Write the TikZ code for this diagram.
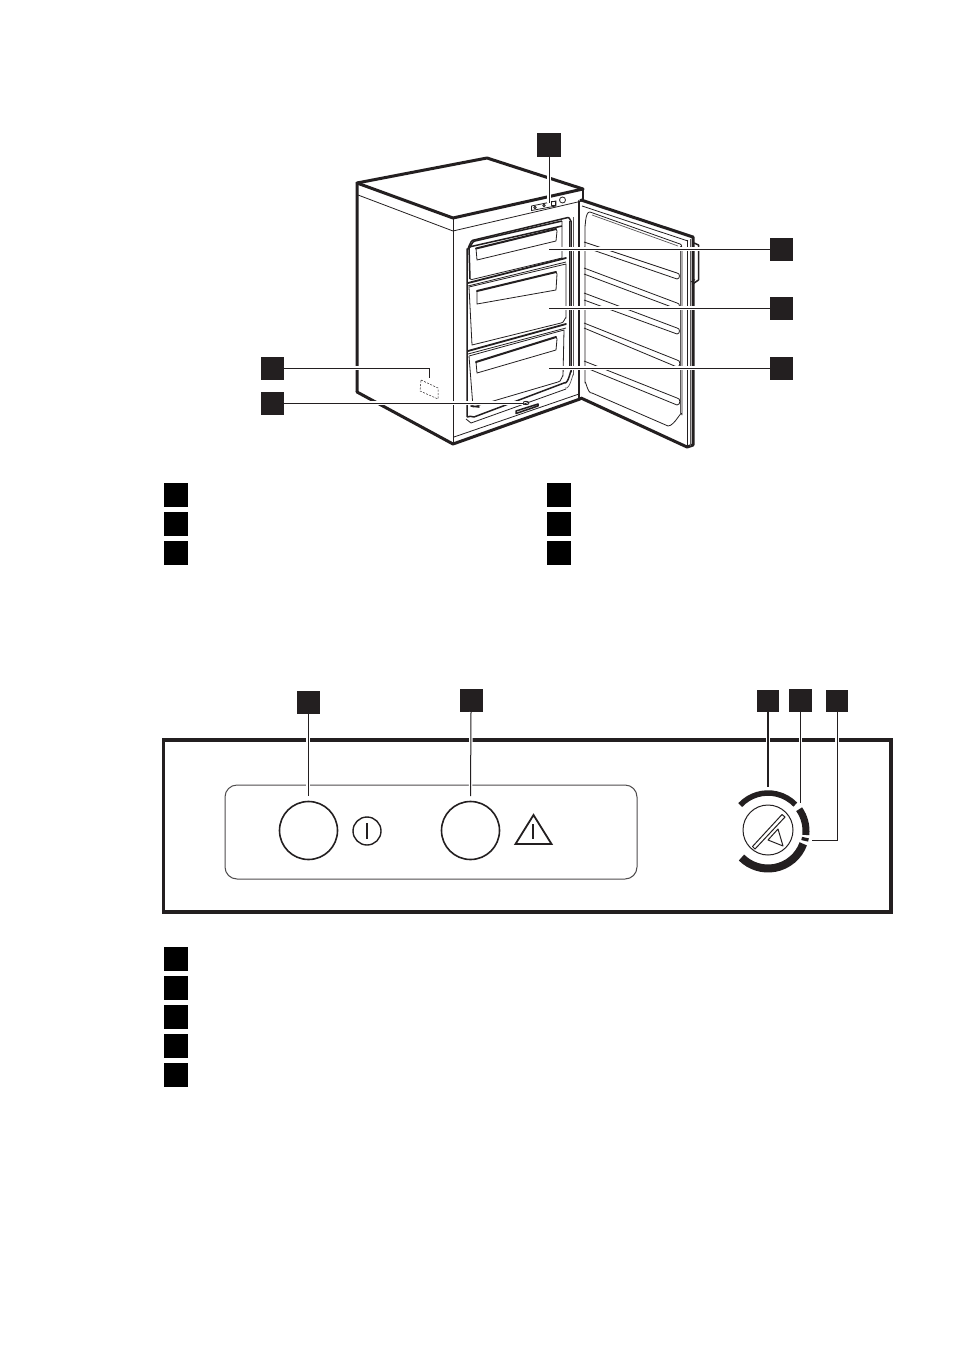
\documentclass[tikz,border=0pt]{standalone}
\definecolor{ink}{HTML}{231F20}
\tikzset{
  tagbox/.style={fill=ink,draw=none,minimum size=#1,inner sep=0pt,outer sep=0pt},
  tagbox/.default=23pt,
  legbox/.style={fill=black,draw=none,minimum size=24pt,inner sep=0pt,outer sep=0pt},
  heavy/.style={draw=ink,line width=3pt,line join=round,line cap=round},
  mid/.style={draw=ink,line width=1.5pt,line join=round},
  fine/.style={draw=ink,line width=0.8pt,line join=round},
  pale/.style={draw=ink!75,line width=0.7pt,line join=round},
  lead/.style={draw=ink,line width=1pt,preaction={draw=white,line width=3.6pt}},
  leadb/.style={draw=ink,line width=1.8pt,preaction={draw=white,line width=4.4pt}}
}
\begin{document}
\begin{tikzpicture}[x=1pt,y=-1pt]
\useasboundingbox (0,0) rectangle (954,1351);
\fill[white] (0,0) rectangle (954,1351);
% ---- cabinet
\draw[heavy] (357,392) -- (357,183) -- (487,158) -- (583,189);
\draw[heavy] (357,183) -- (453,218) -- (583,189);
\draw[heavy] (357,392) -- (453,444) -- (580,399);
\draw[mid] (583,189) -- (583,201);
\draw[fine] (358,195) -- (453,231) -- (582,201);
\draw[fine] (453,218) -- (453,444);
\draw[fine] (454,437) -- (579,394);
\draw[heavy,line width=2pt] (579,201) -- (579,399);
% control strip
\draw[fine] (531.5,206) -- (556,201) -- (556,206) -- (531.5,210.5) -- cycle;
\draw[fine] (535,207.5) circle[radius=1.3pt] (544,205.5) circle[radius=1.3pt];
\draw[fine] (551,201.8) rectangle (555,205.5);
\draw[fine] (562.5,200) circle[radius=3pt];
% opening
\draw[mid] (467,417) -- (467,249) to[out=-80,in=170] (474,240) -- (568,217.5) to[out=10,in=-90] (571,221) -- (571,372) to[out=90,in=-20] (564,383) -- (474,417) to[out=170,in=30] (467,417);
\draw[fine] (569,221) -- (569,370);
\draw[pale] (573.5,217) -- (573.5,375) to[out=90,in=-25] (565,388);
\draw[fine] (466,419) -- (471,423) -- (566,389);
% drawer 1
\draw[mid] (470,279) -- (469,247) -- (562,226);
\draw[mid] (469,247) to[out=-70,in=170] (475,241) -- (562,221);
\draw[fine] (562,221) -- (562,258) -- (472,279.5);
\draw[fine] (472,279.5) -- (470,279);
\draw[heavy,line width=2pt] (476,248.5) -- (556,229);
\draw[fine] (476,248.5) -- (477,260) -- (556,241) -- (557,231) -- (556,229);
% divider 1
\draw[heavy,line width=1.8pt] (468,283) -- (566,258);
\draw[fine] (468,286) -- (566,262);
% drawer 2
\draw[fine] (469,287) -- (566,264) -- (566,318) to[out=90,in=-20] (561,323) -- (472,345) -- (469,287);
\draw[heavy,line width=2pt] (477,291) -- (556,272);
\draw[fine] (477,291) -- (477,304) -- (556,290) -- (557,274) -- (556,272);
% divider 2
\draw[heavy,line width=1.8pt] (468,351) -- (566,324);
\draw[fine] (468,354) -- (566,328);
% drawer 3
\draw[fine] (469,356) -- (564,330) -- (563,376) to[out=90,in=-20] (558,382) -- (473,407) -- (469,356);
\draw[heavy,line width=2pt] (476,362) -- (556,337);
\draw[fine] (476,362) -- (477,373) -- (556,350) -- (557,339) -- (556,337);
\draw[heavy,line width=1.6pt] (471,406) -- (479,407);
% bottom handle
\draw[mid] (516,411) -- (538,404) -- (538,406) -- (516,413.5) -- cycle;
\draw[fine] (526,403) ellipse[x radius=3pt,y radius=1.7pt];
% dashed plate
\draw[fine,line width=0.5pt,dash pattern=on 2pt off 1.4pt] (421,380) -- (438,388) -- (438,399) -- (420,391) -- cycle;
% ---- door
\draw[heavy] (581,200) -- (693,237) -- (693,445) -- (687,447) -- (581,398);
\draw[fine] (582,206) -- (688,241);
\draw[fine] (687,240) -- (687,446);
\draw[pale] (690,239) -- (690,446);
% door liner
\draw[fine] (585,225) to[out=-85,in=170] (590,212) -- (680,244) to[out=30,in=-90] (682,250) -- (682,415) to[out=90,in=0] (668,426) -- (592,393) to[out=195,in=85] (585,383) -- cycle;
\draw[pale] (680,246) -- (680,415);
\draw[pale] (592,215) -- (678,246);
\foreach \ya/\yb/\yc/\yd in {242/273/247/279,268/303/274/309,293/328/300/334,323/360/328/367,361/398/367/405}{
  \draw[fine] (584,\ya) -- (677,\yb) to[out=0,in=0,looseness=1.4] (677,\yd) -- (584,\yc);
}
% door handle
\draw[mid] (694,243) -- (698.5,245) -- (698.5,280) -- (692,284.5);
\draw[fine] (691,282) -- (695,279.5);
% ---- lower panel
\draw[draw=ink,line width=3.4pt] (163.5,740) rectangle (891,912);
\draw[draw=ink!80,line width=1pt,rounded corners=12pt] (225,785) rectangle (637,879);
\node[circle,draw=ink,line width=1.6pt,minimum size=58pt,inner sep=0pt] (btnA) at (308.5,830.5) {};
\node[circle,draw=ink,line width=1.6pt,minimum size=58pt,inner sep=0pt] (btnB) at (470.5,830.5) {};
\node[circle,draw=ink,line width=1.4pt,minimum size=28pt,inner sep=0pt] (pwr) at (367,831) {};
\draw[draw=ink,line width=1.5pt] (367,823) -- (367,839);
\draw[draw=ink,line width=1.8pt,line join=miter] (515.5,844) -- (533.5,815) -- (551.5,844) -- cycle;
\draw[draw=ink,line width=1.5pt] (533,824) -- (533,839);
% dial
\node[circle,draw=ink,line width=1pt,minimum size=50pt,inner sep=0pt] (dial) at (768,830) {};
\draw[fine,line width=1pt] (752.5,846.5) -- (782,814.5) -- (785,817) -- (755,849) -- cycle;
\draw[fine,line width=1pt] (768,840) -- (778,829) -- (783,846) -- cycle;
\draw[draw=ink,line width=5.5pt] (768,831) ++(137:38pt) arc[start angle=137,end angle=44,radius=38pt];
\draw[draw=ink,line width=7pt] (768,831) ++(35:38pt) arc[start angle=35,end angle=-6,radius=38pt];
\draw[draw=ink,line width=7pt] (768,831) ++(-10:38pt) arc[start angle=-10,end angle=-15,radius=38pt];
\draw[draw=ink,line width=8pt] (768,831) ++(-20:37.5pt) arc[start angle=-20,end angle=-135,radius=37.5pt];
% ---- callout squares
\node[tagbox=24pt] (t1) at (549,145) {};
\node[tagbox=23pt] (t2) at (781,249) {};
\node[tagbox=23pt] (t3) at (781,308) {};
\node[tagbox=23pt] (t4) at (781,368) {};
\node[tagbox=23pt] (t5) at (272,368) {};
\node[tagbox=23pt] (t6) at (272,403) {};
\node[tagbox=23pt] (p1) at (308,702.5) {};
\node[tagbox=23pt] (p2) at (471,700.5) {};
\node[tagbox=22pt] (p3) at (768,700.5) {};
\node[tagbox=23pt] (p4) at (800.5,700.5) {};
\node[tagbox=22pt] (p5) at (837,700.5) {};
% free ends
\coordinate (e1) at (549,203);
\coordinate (e2) at (549,249);
\coordinate (e3) at (549,308);
\coordinate (e4) at (549,368);
\coordinate (e5) at (429,378);
\coordinate (e6) at (523,403);
\coordinate (ep1) at (308,796);
\coordinate (ep2) at (470.5,796);
\coordinate (ep3) at (768,787);
\coordinate (ep4) at (800.5,803);
\coordinate (ep5) at (812,840);
% leaders
\draw[lead] (t1.south) -- (e1);
\draw[lead] (t2.west) -- (e2);
\draw[lead] (t3.west) -- (e3);
\draw[lead] (t4.west) -- (e4);
\draw[lead] (t5.east) -| (e5);
\draw[lead] (t6.east) -- (e6);
\draw[lead] (p1.south) -- (ep1);
\draw[lead] (p2.south) -- (ep2);
\draw[leadb] (p3.south) -- (ep3);
\draw[lead] (p4.south) -- (ep4);
\draw[lead] (p5.south) |- (ep5);
% ---- legends
\node[legbox] (l1) at (176,494.5) {};
\node[legbox] (l2) at (176,523.5) {};
\node[legbox] (l3) at (176,553) {};
\node[legbox] (l4) at (559,494.5) {};
\node[legbox] (l5) at (559,523.5) {};
\node[legbox] (l6) at (559,553) {};
\node[legbox] (m1) at (176,959) {};
\node[legbox] (m2) at (176,988) {};
\node[legbox] (m3) at (176,1017) {};
\node[legbox] (m4) at (176,1046) {};
\node[legbox] (m5) at (176,1075) {};
\end{tikzpicture}
\end{document}
